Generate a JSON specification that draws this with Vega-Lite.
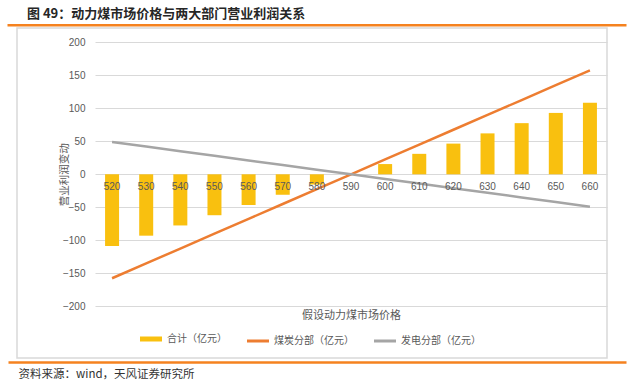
{
  "$schema": "https://vega.github.io/schema/vega-lite/v6.json",
  "width": 590,
  "height": 330,
  "autosize": {"type": "none"},
  "padding": {"left": 17, "top": 28, "right": 28, "bottom": 27},
  "background": "white",
  "config": {
    "font": "Noto Sans CJK SC",
    "view": {"stroke": "#D9D9D9", "strokeWidth": 1.5}
  },
  "title": {
    "text": "图 49：动力煤市场价格与两大部门营业利润关系",
    "anchor": "start",
    "frame": "group",
    "dx": 10,
    "offset": 4,
    "fontSize": 13,
    "fontWeight": "bold",
    "color": "#262626",
    "font": "Noto Sans CJK SC"
  },
  "datasets": {
    "main": [
      {"price": "520", "series": "合计（亿元）", "value": -108.5},
      {"price": "530", "series": "合计（亿元）", "value": -93},
      {"price": "540", "series": "合计（亿元）", "value": -77.5},
      {"price": "550", "series": "合计（亿元）", "value": -62},
      {"price": "560", "series": "合计（亿元）", "value": -46.5},
      {"price": "570", "series": "合计（亿元）", "value": -31},
      {"price": "580", "series": "合计（亿元）", "value": -15.5},
      {"price": "590", "series": "合计（亿元）", "value": 0},
      {"price": "600", "series": "合计（亿元）", "value": 15.5},
      {"price": "610", "series": "合计（亿元）", "value": 31},
      {"price": "620", "series": "合计（亿元）", "value": 46.5},
      {"price": "630", "series": "合计（亿元）", "value": 62},
      {"price": "640", "series": "合计（亿元）", "value": 77.5},
      {"price": "650", "series": "合计（亿元）", "value": 93},
      {"price": "660", "series": "合计（亿元）", "value": 108.5},
      {"price": "520", "series": "煤炭分部（亿元）", "value": -157.5},
      {"price": "530", "series": "煤炭分部（亿元）", "value": -135},
      {"price": "540", "series": "煤炭分部（亿元）", "value": -112.5},
      {"price": "550", "series": "煤炭分部（亿元）", "value": -90},
      {"price": "560", "series": "煤炭分部（亿元）", "value": -67.5},
      {"price": "570", "series": "煤炭分部（亿元）", "value": -45},
      {"price": "580", "series": "煤炭分部（亿元）", "value": -22.5},
      {"price": "590", "series": "煤炭分部（亿元）", "value": 0},
      {"price": "600", "series": "煤炭分部（亿元）", "value": 22.5},
      {"price": "610", "series": "煤炭分部（亿元）", "value": 45},
      {"price": "620", "series": "煤炭分部（亿元）", "value": 67.5},
      {"price": "630", "series": "煤炭分部（亿元）", "value": 90},
      {"price": "640", "series": "煤炭分部（亿元）", "value": 112.5},
      {"price": "650", "series": "煤炭分部（亿元）", "value": 135},
      {"price": "660", "series": "煤炭分部（亿元）", "value": 157.5},
      {"price": "520", "series": "发电分部（亿元）", "value": 49},
      {"price": "530", "series": "发电分部（亿元）", "value": 42},
      {"price": "540", "series": "发电分部（亿元）", "value": 35},
      {"price": "550", "series": "发电分部（亿元）", "value": 28},
      {"price": "560", "series": "发电分部（亿元）", "value": 21},
      {"price": "570", "series": "发电分部（亿元）", "value": 14},
      {"price": "580", "series": "发电分部（亿元）", "value": 7},
      {"price": "590", "series": "发电分部（亿元）", "value": 0},
      {"price": "600", "series": "发电分部（亿元）", "value": -7},
      {"price": "610", "series": "发电分部（亿元）", "value": -14},
      {"price": "620", "series": "发电分部（亿元）", "value": -21},
      {"price": "630", "series": "发电分部（亿元）", "value": -28},
      {"price": "640", "series": "发电分部（亿元）", "value": -35},
      {"price": "650", "series": "发电分部（亿元）", "value": -42},
      {"price": "660", "series": "发电分部（亿元）", "value": -49}
    ],
    "deco": [{"d": 0}]
  },
  "layer": [
    {
      "data": {"name": "main"},
      "encoding": {
        "x": {
          "field": "price",
          "type": "ordinal",
          "scale": {"range": [78, 590], "paddingInner": 0.59, "paddingOuter": 0.295},
          "axis": {
            "orient": "bottom",
            "offset": -183.7,
            "domain": false,
            "ticks": false,
            "tickSize": 0,
            "grid": false,
            "labelPadding": 7,
            "labelAngle": 0,
            "labelFontSize": 10,
            "labelColor": "#595959",
            "labelFont": "Liberation Sans",
            "title": "假设动力煤市场价格",
            "titleFontSize": 11,
            "titleFontWeight": "normal",
            "titleColor": "#595959",
            "titleX": 334,
            "titleY": 140.7,
            "titleBaseline": "middle",
            "titleAlign": "center",
            "zindex": 1
          }
        },
        "y": {
          "field": "value",
          "type": "quantitative",
          "scale": {"domain": [-200, 200], "range": [278.3, 14.3], "nice": false},
          "axis": {
            "offset": -78,
            "domain": false,
            "ticks": false,
            "tickSize": 0,
            "labelPadding": 10,
            "values": [-200, -150, -100, -50, 0, 50, 100, 150, 200],
            "labelFontSize": 10,
            "labelColor": "#595959",
            "labelFont": "Liberation Sans",
            "gridColor": "#D9D9D9",
            "gridWidth": 1,
            "title": "营业利润变动",
            "titleFontSize": 10.5,
            "titleFontWeight": "normal",
            "titleColor": "#595959",
            "titleAngle": 270,
            "titleX": -31,
            "titleY": 146.3,
            "titleBaseline": "middle",
            "titleAlign": "center"
          }
        },
        "color": {
          "field": "series",
          "type": "nominal",
          "scale": {
            "domain": ["合计（亿元）", "煤炭分部（亿元）", "发电分部（亿元）"],
            "range": ["#F9C00F", "#ED7D31", "#A5A5A5"]
          },
          "legend": {
            "orient": "none",
            "legendX": 129,
            "legendY": 306,
            "direction": "horizontal",
            "title": null,
            "symbolType": "stroke",
            "symbolSize": 484,
            "symbolStrokeWidth": 3,
            "labelFontSize": 10,
            "labelColor": "#595959",
            "labelOffset": 11,
            "columnPadding": 14,
            "encode": {
              "symbols": {
                "update": {
                  "stroke": {"scale": "color", "field": "value"},
                  "strokeWidth": {"signal": "datum.value === '合计（亿元）' ? 5 : 3"}
                }
              }
            }
          }
        }
      },
      "layer": [
        {
          "transform": [{"filter": "datum.series === '合计（亿元）'"}],
          "mark": {"type": "bar"}
        },
        {
          "transform": [{"filter": "datum.series !== '合计（亿元）'"}],
          "mark": {"type": "line", "strokeWidth": 2.5}
        }
      ]
    },
    {
      "data": {"name": "deco"},
      "mark": {"type": "rule", "opacity": 0},
      "encoding": {
        "x": {
          "field": "d",
          "type": "quantitative",
          "scale": {"domain": [0, 1], "range": [-10, 609], "nice": false, "zero": false},
          "axis": {
            "orient": "top",
            "offset": 3.3,
            "domainColor": "#F5821F",
            "domainWidth": 2.5,
            "labels": false,
            "ticks": false,
            "grid": false,
            "title": null
          }
        }
      }
    },
    {
      "data": {"name": "deco"},
      "mark": {"type": "rule", "opacity": 0},
      "encoding": {
        "x": {
          "field": "d",
          "type": "quantitative",
          "scale": {"domain": [0, 1], "range": [-9, 609], "nice": false, "zero": false},
          "axis": {
            "orient": "bottom",
            "offset": 4,
            "domainColor": "#F5821F",
            "domainWidth": 2.5,
            "labels": false,
            "ticks": false,
            "grid": false,
            "title": "资料来源：wind，天风证券研究所",
            "titleX": 1,
            "titleY": 12,
            "titleAlign": "left",
            "titleBaseline": "middle",
            "titleFontSize": 11.5,
            "titleFontWeight": "normal",
            "titleColor": "#333333"
          }
        }
      }
    }
  ],
  "resolve": {"scale": {"x": "independent"}, "axis": {"x": "independent"}}
}
